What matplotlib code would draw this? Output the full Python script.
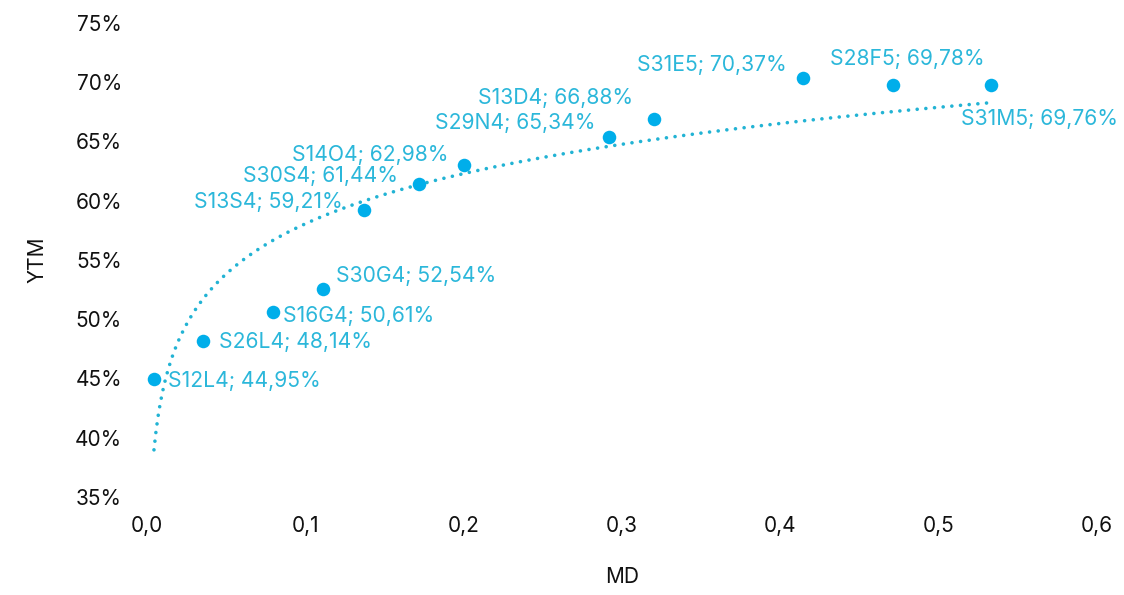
import numpy as np
import matplotlib
matplotlib.use("Agg")
import matplotlib.pyplot as plt
from matplotlib.ticker import FuncFormatter, MultipleLocator

plt.rcParams['font.family'] = ['Inter', 'DejaVu Sans']

names = ["S12L4", "S26L4", "S16G4", "S30G4", "S13S4", "S30S4", "S14O4",
         "S29N4", "S13D4", "S31E5", "S28F5", "S31M5"]
md = [0.0044, 0.0354, 0.0797, 0.111, 0.137, 0.172, 0.200,
      0.292, 0.320, 0.414, 0.471, 0.533]
ytm = [44.95, 48.14, 50.61, 52.54, 59.21, 61.44, 62.98,
       65.34, 66.88, 70.37, 69.78, 69.76]

# label offsets in pixels (layout only)
offsets = [(14, -2, 'left'), (16, -1, 'left'), (10, -4, 'left'), (13, 13, 'left'),
           (-21, 8, 'right'), (-21, 8, 'right'), (-15, 10, 'right'),
           (-14, 14, 'right'), (-21, 21, 'right'), (-16, 13, 'right'),
           (15, 26, 'center'), (49, -34, 'center')]

point_color = '#00AEEA'
label_color = '#2BB7DA'
trend_color = '#22B3D4'

fig = plt.figure(figsize=(11.24, 5.95), dpi=100)
ax = fig.add_axes([147/1124, 98/595, 950/1124, 474/595])

x = np.array(md)
y = np.array(ytm)
a, b = np.polyfit(np.log(x), y, 1)
xt = np.linspace(x.min(), x.max(), 400)
ax.plot(xt, a*np.log(xt) + b, color=trend_color, lw=2.6,
        linestyle=(0, (0.01, 2.4)), dash_capstyle='round', zorder=1)

ax.scatter(x, y, s=95, color=point_color, zorder=3, linewidths=0)

def fmt_pct(v):
    return f"{v:.2f}".replace('.', ',') + '%'

for n, xi, yi, (dx, dy, ha) in zip(names, md, ytm, offsets):
    ax.annotate(f"{n}; {fmt_pct(yi)}", (xi, yi), xytext=(dx, dy),
                textcoords='offset pixels', ha=ha, va='center',
                color=label_color, fontsize=15.2, zorder=4)

ax.set_xlim(0, 0.6)
ax.set_ylim(35, 75)
ax.xaxis.set_major_locator(MultipleLocator(0.1))
ax.yaxis.set_major_locator(MultipleLocator(5))
ax.xaxis.set_major_formatter(FuncFormatter(lambda v, p: f"{v:.1f}".replace('.', ',')))
ax.yaxis.set_major_formatter(FuncFormatter(lambda v, p: f"{v:.0f}%"))
for s in ax.spines.values():
    s.set_visible(False)
ax.tick_params(axis='both', length=0, labelsize=15, colors='#111111')
ax.tick_params(axis='y', pad=18)
ax.tick_params(axis='x', pad=14)
ax.set_xlabel("MD", fontsize=15, color='#111111', labelpad=22)
ax.set_ylabel("YTM", fontsize=15, color='#111111', labelpad=20)

fig.savefig("out.png", dpi=100)
